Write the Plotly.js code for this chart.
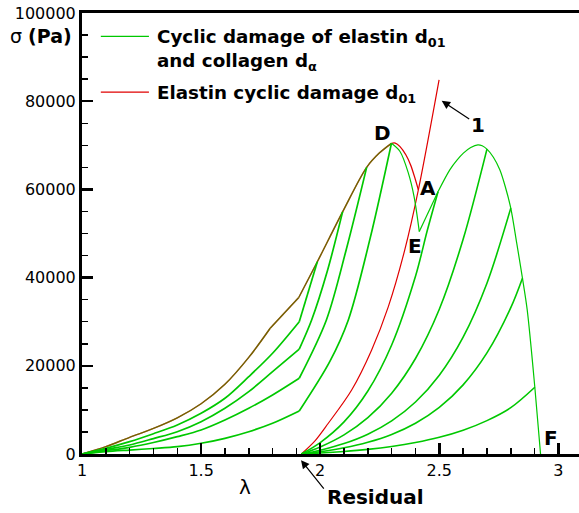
<!DOCTYPE html>
<html>
<head>
<meta charset="utf-8">
<script src="https://cdn.plot.ly/plotly-3.0.1.min.js"></script>
<style>
html,body{margin:0;padding:0;overflow:hidden;background:#fff;}
#chart{width:582px;height:513px;}
</style>
</head>
<body>
<div id="chart"></div>
<script>
// ---- data ----
// loading envelope (elastin + collagen), from lambda = 1 up to peak D
const envLam = [1, 1.1, 1.2, 1.3, 1.4, 1.5, 1.6, 1.7, 1.79, 1.91, 1.988, 2.094, 2.195, 2.248, 2.299];
const envSig = [0, 1660, 3790, 5800, 8200, 11400, 15800, 21900, 28520, 35500, 43600, 54900, 65000, 68230, 70450];

// first-cycle reload curves returning to lambda = 1
const c2Lam = [1, 1.1, 1.2, 1.3, 1.4, 1.5, 1.6, 1.7, 1.8, 1.912, 1.988];
const c2Sig = [0, 1290, 2800, 4600, 6580, 9230, 12630, 17540, 22850, 30000, 43600];
const c3Lam = [1, 1.1, 1.2, 1.3, 1.4, 1.5, 1.6, 1.7, 1.8, 1.912, 1.964, 2.03, 2.094];
const c3Sig = [0, 1060, 2040, 3500, 5060, 7330, 10370, 14140, 18670, 23800, 30400, 41500, 54900];
const c4Lam = [1, 1.1, 1.2, 1.3, 1.4, 1.5, 1.6, 1.7, 1.8, 1.912, 2.026, 2.11, 2.195];
const c4Sig = [0, 750, 1510, 2600, 3930, 5450, 7710, 10370, 13390, 17180, 30400, 46500, 65000];
const c5Lam = [1, 1.1, 1.2, 1.3, 1.4, 1.5, 1.6, 1.7, 1.8, 1.912, 2.04, 2.118, 2.21, 2.299];
const c5Sig = [0, 530, 900, 1250, 1660, 2430, 3560, 5060, 6970, 9760, 20940, 30400, 49000, 70450];

// green path after D: D -> E -> A -> second peak -> F
const postLam = [2.299, 2.335, 2.370, 2.394, 2.416, 2.455, 2.495, 2.544, 2.575, 2.601, 2.632, 2.662, 2.68, 2.700, 2.727, 2.754, 2.777, 2.800, 2.825, 2.849, 2.869, 2.901, 2.925];
const postSig = [70450, 68590, 63690, 58380, 50440, 54980, 59520, 64440, 66700, 68230, 69500, 70110, 69900, 69140, 67300, 64440, 60600, 55750, 47810, 39870, 32670, 15130, 0];

// reload curves starting from the residual stretch
const gALam = [1.921, 2.0, 2.1, 2.2, 2.3, 2.4, 2.45, 2.495];
const gASig = [0, 2590, 7280, 14280, 24720, 40300, 50780, 59520];
const gBLam = [1.921, 2.0, 2.1, 2.2, 2.3, 2.4, 2.5, 2.6, 2.7];
const gBSig = [0, 1600, 4340, 8250, 13800, 21660, 32830, 48690, 69140];
const gCLam = [1.921, 2.0, 2.1, 2.2, 2.3, 2.4, 2.5, 2.6, 2.7, 2.8];
const gCSig = [0, 860, 2360, 4490, 7510, 11790, 17870, 26500, 38730, 55750];
const gDLam = [1.921, 2.0, 2.1, 2.2, 2.3, 2.4, 2.5, 2.6, 2.7, 2.8, 2.849];
const gDSig = [0, 510, 1400, 2660, 4440, 6980, 10570, 15680, 22920, 33190, 39870];
const gELam = [1.921, 2.0, 2.1, 2.2, 2.3, 2.4, 2.5, 2.6, 2.7, 2.8, 2.901];
const gESig = [0, 216, 576, 1060, 1715, 2600, 3790, 5400, 7570, 10500, 15130];

// elastin cyclic damage (red): softening after D down to A, and residual reload
const redDLam = [2.299, 2.315, 2.335, 2.36, 2.38, 2.398, 2.412];
const redDSig = [70450, 70500, 69700, 67800, 65500, 62500, 59900];
const redRLam = [1.921, 1.98, 2.034, 2.132, 2.216, 2.286, 2.355, 2.412, 2.499];
const redRSig = [0, 3100, 6970, 14520, 23600, 33420, 46290, 59900, 84860];

const xTickVals = [1, 1.5, 2, 2.5, 3];
const xTickText = ["1", "1.5", "2", "2.5", "3"];
const yTickVals = [0, 20000, 40000, 60000, 80000, 100000];
const yTickText = ["0", "20000", "40000", "60000", "80000", "100000"];

const legendGreen = "Cyclic damage of elastin d<sub>01</sub>";
const legendGreen2 = "and collagen d<sub>α</sub>";
const legendRed = "Elastin cyclic damage d<sub>01</sub>";

// ---- styles ----
const GREEN = "#00c800";
const RED = "#e00000";
const ENV_GREEN = "rgba(0,200,0,0.5)";

// a piece of a curve between two indices (inclusive), drawn smooth or straight
function piece(x, y, i0, i1, color, w, smooth) {
  return {x: x.slice(i0, i1 + 1), y: y.slice(i0, i1 + 1), type: "scatter", mode: "lines",
          hoverinfo: "skip", showlegend: false,
          line: {color: color, width: w, shape: smooth ? "spline" : "linear", smoothing: 0.9}};
}
function kinked(x, y, k, color, w) {
  // soft branch up to the kink at index k, then the steep branch
  return [piece(x, y, 0, k, color, w, true), piece(x, y, k, x.length - 1, color, w, true)];
}

const iEnv179 = envLam.indexOf(1.79), iEnv191 = envLam.indexOf(1.91);
const iE = postLam.indexOf(2.416), iA = postLam.indexOf(2.495);

const traces = [].concat(
  // red loading path (under the green envelope) + softening to A
  [piece(envLam, envSig, 0, iEnv179, RED, 1.4, true),
   piece(envLam, envSig, iEnv179, iEnv191, RED, 1.4, false),
   piece(envLam, envSig, iEnv191, envLam.length - 1, RED, 1.4, true),
   piece(redDLam, redDSig, 0, redDLam.length - 1, RED, 1.3, true),
   piece(redRLam, redRSig, 0, redRLam.length - 1, RED, 1.2, true)],
  kinked(c2Lam, c2Sig, c2Lam.indexOf(1.912), GREEN, 1.7),
  kinked(c3Lam, c3Sig, c3Lam.indexOf(1.912), GREEN, 1.7),
  kinked(c4Lam, c4Sig, c4Lam.indexOf(1.912), GREEN, 1.7),
  kinked(c5Lam, c5Sig, c5Lam.indexOf(1.912), GREEN, 1.7),
  [piece(gALam, gASig, 0, gALam.length - 1, GREEN, 1.6, true),
   piece(gBLam, gBSig, 0, gBLam.length - 1, GREEN, 1.6, true),
   piece(gCLam, gCSig, 0, gCLam.length - 1, GREEN, 1.6, true),
   piece(gDLam, gDSig, 0, gDLam.length - 1, GREEN, 1.6, true),
   piece(gELam, gESig, 0, gELam.length - 1, GREEN, 1.6, true),
   piece(postLam, postSig, 0, iE, GREEN, 1.2, true),
   piece(postLam, postSig, iE, iA, GREEN, 1.2, false),
   piece(postLam, postSig, iA, postLam.length - 1, GREEN, 1.2, true),
   // green envelope over the red one (olive overlap)
   piece(envLam, envSig, 0, iEnv179, ENV_GREEN, 1.4, true),
   piece(envLam, envSig, iEnv179, iEnv191, ENV_GREEN, 1.4, false),
   piece(envLam, envSig, iEnv191, envLam.length - 1, ENV_GREEN, 1.4, true)]
);

function lab(text, x, y, size, xanchor) {
  return {text: "<b>" + text + "</b>", x: x, y: y, xref: "x", yref: "y",
          showarrow: false, xanchor: xanchor || "center", yanchor: "middle",
          font: {family: "DejaVu Sans", size: size, color: "black"}};
}
function plab(text, x, y, size, xanchor) {
  return {text: text, x: x, y: y, xref: "paper", yref: "paper",
          showarrow: false, xanchor: xanchor || "center", yanchor: "middle",
          font: {family: "DejaVu Sans", size: size, color: "black"}};
}

const annotations = [
  plab("σ <b>(Pa)</b>", -0.148, 0.948, 19, "left"),
  plab("λ", 0.326, -0.075, 20, "center"),
  plab("<b>Residual</b>", 0.486, -0.0975, 20, "left"),
  lab(legendGreen, 1.305, 94300, 18.3, "left"),
  lab(legendGreen2, 1.305, 89000, 18.3, "left"),
  lab(legendRed, 1.305, 81700, 18.3, "left"),
  lab("D", 2.261, 72900, 20),
  lab("A", 2.453, 60290, 20),
  lab("E", 2.400, 47200, 20),
  lab("F", 2.968, 3560, 20),
  // label "1" with its arrow pointing at the elastin curve
  {text: "<b>1</b>", x: 2.510, y: 80100, xref: "x", yref: "y", showarrow: true,
   ax: 36, ay: 24, arrowhead: 2, arrowsize: 1.4, arrowwidth: 1.2, arrowcolor: "black", standoff: 0,
   font: {family: "DejaVu Sans", size: 20, color: "black"}},
  {text: "", x: 0.438, y: -0.014, xref: "paper", yref: "paper", showarrow: true,
   ax: 24, ay: 30, arrowhead: 2, arrowsize: 1.4, arrowwidth: 1.2, arrowcolor: "black", standoff: 0}
];

const shapes = [
  {type: "line", xref: "x", yref: "y", x0: 1.079, x1: 1.281, y0: 94690, y1: 94690,
   line: {color: GREEN, width: 1.3}},
  {type: "line", xref: "x", yref: "y", x0: 1.079, x1: 1.281, y0: 82070, y1: 82070,
   line: {color: RED, width: 1.3}}
];

const tickFont = {family: "DejaVu Sans", size: 16, color: "black"};

const layout = {
  width: 582, height: 513,
  margin: {l: 82, r: 0, t: 13, b: 59, pad: 0},
  paper_bgcolor: "white", plot_bgcolor: "white",
  showlegend: false,
  xaxis: {
    range: [1, 3.099], tickmode: "array", tickvals: xTickVals, ticktext: xTickText,
    ticks: "inside", ticklen: 11, tickwidth: 2.5, tickcolor: "black",
    showline: true, linewidth: 3, linecolor: "black", mirror: true,
    showgrid: false, zeroline: false, tickfont: tickFont,
    minor: {dtick: 0.1, tick0: 1, ticks: "inside", ticklen: 6, tickwidth: 1.5, tickcolor: "black", showgrid: false}
  },
  yaxis: {
    range: [0, 100000], tickmode: "array", tickvals: yTickVals, ticktext: yTickText,
    ticks: "inside", ticklen: 11, tickwidth: 2.5, tickcolor: "black",
    showline: true, linewidth: 3, linecolor: "black", mirror: false,
    showgrid: false, zeroline: false, tickfont: tickFont,
    minor: {dtick: 5000, tick0: 0, ticks: "inside", ticklen: 6, tickwidth: 1.5, tickcolor: "black", showgrid: false}
  },
  annotations: annotations,
  shapes: shapes
};

Plotly.newPlot("chart", traces, layout, {staticPlot: true, displayModeBar: false});
</script>
</body>
</html>
